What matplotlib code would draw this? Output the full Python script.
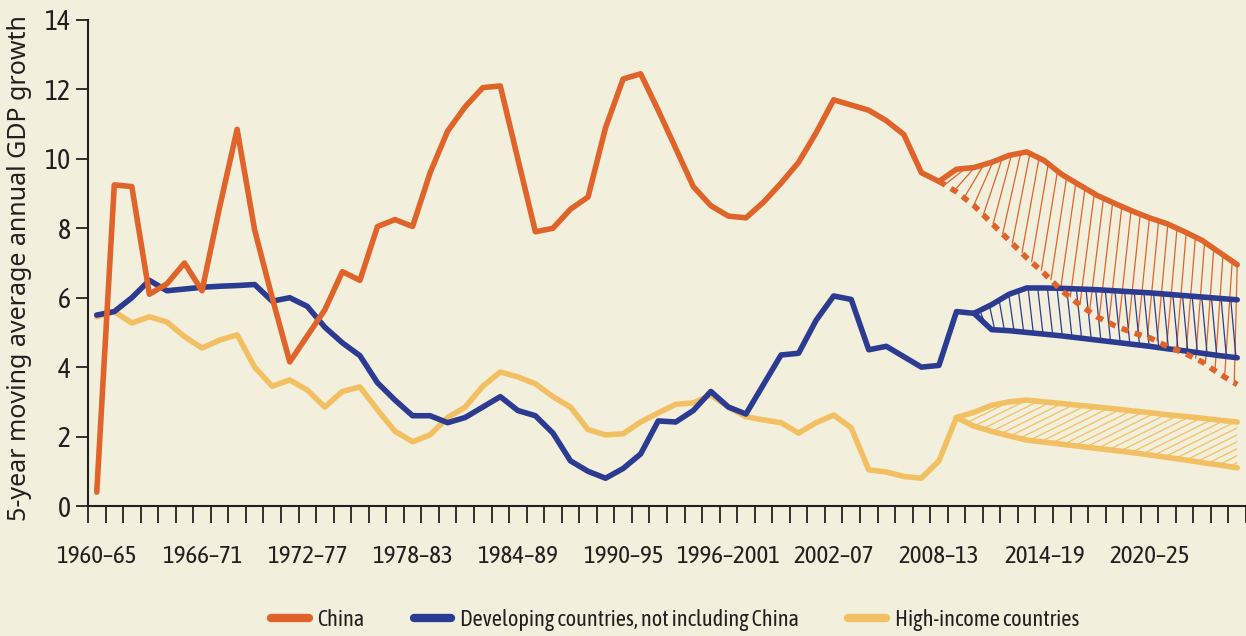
import numpy as np
import matplotlib
matplotlib.use("Agg")
import matplotlib.pyplot as plt
from matplotlib.collections import LineCollection
from matplotlib.lines import Line2D

# 5-year moving averages, one value per starting year 1960..2025
china = [0.4, 9.25, 9.2, 6.1, 6.4, 7.0, 6.2, 8.6, 10.85, 7.95,
         6.0, 4.15, 4.9, 5.65, 6.75, 6.5, 8.05, 8.25, 8.05, 9.6,
         10.8, 11.5, 12.05, 12.1, 10.0, 7.9, 8.0, 8.55, 8.9, 10.9,
         12.3, 12.45, 11.4, 10.3, 9.2, 8.65, 8.35, 8.3, 8.75, 9.3,
         9.9, 10.75, 11.7, 11.55, 11.4, 11.1, 10.7, 9.6, 9.35]
china_high = [9.35, 9.7, 9.75, 9.9, 10.1, 10.2, 9.95, 9.55, 9.25, 8.95,
              8.72, 8.5, 8.3, 8.13, 7.9, 7.65, 7.3, 6.95]
china_low = [9.35, 9.05, 8.65, 8.15, 7.65, 7.15, 6.7, 6.2, 5.8, 5.45,
             5.2, 5.0, 4.85, 4.6, 4.4, 4.15, 3.8, 3.5]

developing = [5.5, 5.6, 6.0, 6.5, 6.2, 6.25, 6.3, 6.33, 6.35, 6.38,
              5.9, 6.0, 5.75, 5.15, 4.7, 4.33, 3.55, 3.05, 2.6, 2.6,
              2.4, 2.55, 2.85, 3.15, 2.75, 2.6, 2.1, 1.3, 1.0, 0.8,
              1.08, 1.5, 2.45, 2.42, 2.75, 3.3, 2.85, 2.65, 3.5, 4.35,
              4.4, 5.35, 6.05, 5.95, 4.5, 4.6, 4.3, 4.0, 4.05, 5.6, 5.55]
developing_high = [5.55, 5.8, 6.1, 6.28, 6.28, 6.27, 6.25, 6.23, 6.2, 6.17,
                   6.14, 6.1, 6.06, 6.02, 5.98, 5.94]
developing_low = [5.55, 5.08, 5.05, 5.0, 4.95, 4.9, 4.84, 4.78, 4.72, 4.66,
                  4.6, 4.53, 4.47, 4.4, 4.33, 4.27]

high_income = [5.45, 5.6, 5.27, 5.45, 5.3, 4.88, 4.55, 4.78, 4.93, 4.0,
               3.45, 3.63, 3.34, 2.85, 3.3, 3.43, 2.77, 2.15, 1.85, 2.05,
               2.55, 2.85, 3.45, 3.86, 3.72, 3.52, 3.15, 2.85, 2.2, 2.05,
               2.08, 2.42, 2.68, 2.93, 2.97, 3.2, 2.85, 2.57, 2.48, 2.4,
               2.1, 2.4, 2.62, 2.25, 1.04, 0.98, 0.85, 0.8, 1.3, 2.55]
high_income_high = [2.55, 2.7, 2.9, 3.0, 3.05, 3.0, 2.95, 2.9, 2.85, 2.8,
                    2.74, 2.69, 2.63, 2.58, 2.53, 2.47, 2.42]
high_income_low = [2.55, 2.3, 2.15, 2.02, 1.9, 1.84, 1.78, 1.72, 1.66, 1.6,
                   1.54, 1.47, 1.4, 1.33, 1.25, 1.18, 1.1]

period_labels = ["1960–65", "1966–71", "1972–77", "1978–83", "1984–89",
                 "1990–95", "1996–2001", "2002–07", "2008–13", "2014–19",
                 "2020–25"]

ORANGE = "#e0632a"
BLUE = "#2b3b92"
YELLOW = "#f2c062"
BG = "#f2efdc"
INK = "#231f20"

NARROW = ["Asap Condensed", "Archivo Narrow", "Liberation Sans"]
plt.rcParams["font.family"] = NARROW


def lean_hatch(ax, x, start_y, end_y, step, lean0, lean1, color):
    """thin strokes from one curve to the other, leaning by lean periods"""
    x = np.asarray(x, dtype=float)
    segs = []
    for t in np.arange(x[0] + step * 0.6, x[-1], step):
        frac = (t - x[0]) / (x[-1] - x[0])
        t2 = min(t + lean0 + (lean1 - lean0) * frac, x[-1])
        segs.append([(t, np.interp(t, x, start_y)), (t2, np.interp(t2, x, end_y))])
    ax.add_collection(LineCollection(segs, colors=color, linewidths=0.9, zorder=2))


def slant_hatch(ax, x, lo, hi, slope, step, color):
    """parallel slanted strokes clipped to the band between lo and hi"""
    band = ax.fill_between(x, lo, hi, facecolor="none", edgecolor="none")
    x0, x1 = x[0] - 1, x[-1] + 1
    segs = []
    for c in np.arange(x0 - 12, x1, step):
        segs.append([(x0, slope * (x0 - c)), (x1, slope * (x1 - c))])
    lc = LineCollection(segs, colors=color, linewidths=0.9, zorder=2)
    ax.add_collection(lc)
    lc.set_clip_path(band.get_paths()[0], ax.transData)


def main():
    fig = plt.figure(figsize=(12.46, 6.36), dpi=100, facecolor=BG)
    ax = fig.add_axes([0.0706, 0.2044, 0.9294, 0.7642])
    ax.set_facecolor(BG)

    i_hist_c = np.arange(len(china))
    i_proj_c = np.arange(48, 48 + len(china_high))
    i_hist_d = np.arange(len(developing))
    i_proj_d = np.arange(50, 50 + len(developing_high))
    i_hist_h = np.arange(len(high_income))
    i_proj_h = np.arange(49, 49 + len(high_income_high))

    lw = 4.0
    kw = dict(lw=lw, solid_joinstyle="round", solid_capstyle="round", zorder=3)

    # hatched bands between the projection scenarios
    lean_hatch(ax, i_proj_c, china_low, china_high, 0.55, 1.2, 0.4, ORANGE)
    lean_hatch(ax, i_proj_d, developing_high, developing_low, 0.55, 0.3, 0.3, BLUE)
    slant_hatch(ax, i_proj_h, high_income_low, high_income_high, 0.25, 0.8, YELLOW)

    ax.plot(i_hist_h, high_income, color=YELLOW, **kw)
    ax.plot(i_proj_h, high_income_high, color=YELLOW, **kw)
    ax.plot(i_proj_h, high_income_low, color=YELLOW, **kw)

    ax.plot(i_hist_d, developing, color=BLUE, **kw)
    ax.plot(i_proj_d, developing_high, color=BLUE, **kw)
    ax.plot(i_proj_d, developing_low, color=BLUE, **kw)

    ax.plot(i_hist_c, china, color=ORANGE, **kw)
    ax.plot(i_proj_c, china_high, color=ORANGE, **kw)
    ax.plot(i_proj_c, china_low, color=ORANGE, lw=lw,
            linestyle=(0, (1.3, 1.2)), dash_capstyle="butt", zorder=3)

    ax.set_xlim(-0.5, 65.5)
    ax.set_ylim(0, 14)

    for side in ("top", "right"):
        ax.spines[side].set_visible(False)
    for side in ("left", "bottom"):
        ax.spines[side].set_color(INK)
        ax.spines[side].set_linewidth(1.5)

    ax.set_yticks(np.arange(0, 15, 2))
    ax.tick_params(axis="y", direction="out", length=8.5, width=1.3,
                   color=INK, labelcolor=INK, labelsize=20, pad=4)

    ax.set_xticks(np.arange(0, 61, 6))
    ax.set_xticklabels(period_labels)
    ax.set_xticks(np.arange(-0.5, 66, 1), minor=True)
    ax.tick_params(axis="x", which="major", length=0, pad=28,
                   labelcolor=INK, labelsize=18)
    ax.tick_params(axis="x", which="minor", direction="out", length=12,
                   width=1.3, color=INK)

    fig.text(0.016, 1 - 268 / 636, "5-year moving average annual GDP growth",
             rotation=90, ha="center", va="center", fontsize=18,
             color=INK, family=["Noto Sans", "DejaVu Sans"])

    handles = [Line2D([], [], color=c, lw=6, solid_capstyle="round")
               for c in (ORANGE, BLUE, YELLOW)]
    fig.legend(handles, ["China", "Developing countries, not including China",
                         "High-income countries"],
               loc="center", bbox_to_anchor=(675 / 1246, 16 / 636), ncol=3,
               frameon=False, fontsize=16, handlelength=1.7,
               handletextpad=0.4, columnspacing=2.2, labelcolor=INK)

    fig.savefig("out.png", dpi=100, facecolor=BG)


if __name__ == "__main__":
    main()
